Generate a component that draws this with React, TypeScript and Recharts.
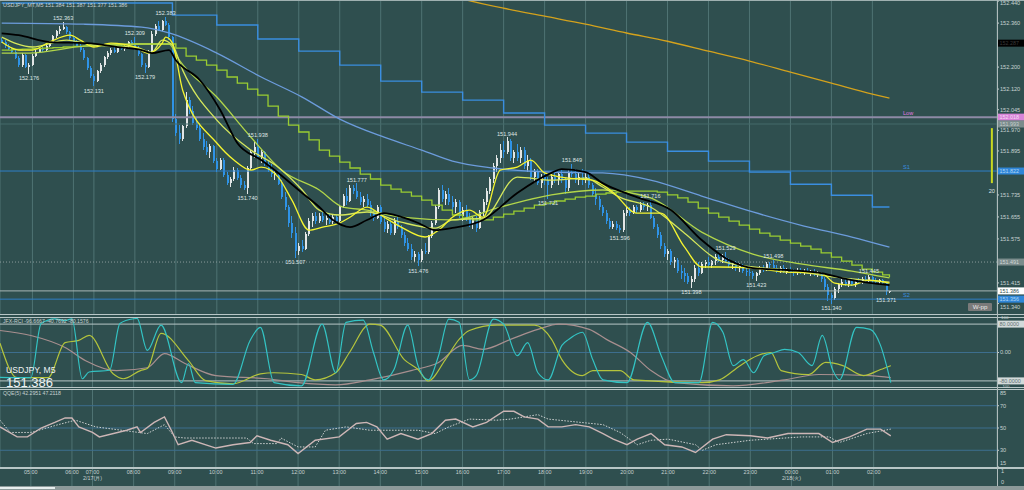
import React from 'react';
import { ComposedChart, Bar, Line, XAxis, YAxis, CartesianGrid, ReferenceLine, ReferenceDot } from 'recharts';

const BG = '#2f4f4f';
const GRID = '#4f7373';
const AXIS_TEXT = '#c8d2d2';
const BULL = '#e2e6e6';
const BEAR = '#2f93e6';
const FONT = '"Liberation Sans", Arial, sans-serif';
const SLOTS = 292; // 5-minute slots across the plot, incl. empty space on the right

// USDJPY M5 candles [open, high, low, close], 04:15 .. 02:25
const candles: number[][] = [
  // 04:15
  [152.300, 152.306, 152.288, 152.292], [152.292, 152.298, 152.270, 152.276], [152.276, 152.284, 152.262, 152.266],
  [152.266, 152.272, 152.250, 152.256], [152.256, 152.262, 152.228, 152.232], [152.232, 152.240, 152.200, 152.206],
  [152.206, 152.250, 152.200, 152.244], [152.244, 152.248, 152.196, 152.200], [152.200, 152.214, 152.176, 152.208],
  // 05:00
  [152.208, 152.246, 152.204, 152.240], [152.240, 152.262, 152.236, 152.256], [152.256, 152.270, 152.250, 152.266],
  [152.266, 152.276, 152.256, 152.262], [152.262, 152.282, 152.258, 152.278], [152.278, 152.296, 152.272, 152.290],
  [152.290, 152.318, 152.286, 152.312], [152.312, 152.336, 152.306, 152.330], [152.330, 152.348, 152.322, 152.340],
  [152.340, 152.363, 152.334, 152.344], [152.344, 152.350, 152.322, 152.326], [152.326, 152.332, 152.300, 152.306],
  // 06:00
  [152.306, 152.312, 152.284, 152.290], [152.290, 152.300, 152.272, 152.278], [152.278, 152.284, 152.256, 152.262],
  [152.262, 152.268, 152.226, 152.232], [152.232, 152.238, 152.190, 152.196], [152.196, 152.204, 152.160, 152.168],
  // 07:00
  [152.168, 152.176, 152.131, 152.150], [152.150, 152.190, 152.144, 152.184], [152.184, 152.214, 152.178, 152.208],
  [152.208, 152.240, 152.202, 152.236], [152.236, 152.258, 152.230, 152.252], [152.252, 152.270, 152.244, 152.262],
  [152.262, 152.272, 152.250, 152.256], [152.256, 152.274, 152.252, 152.270], [152.270, 152.284, 152.262, 152.266],
  [152.266, 152.280, 152.258, 152.276], [152.276, 152.296, 152.270, 152.290], [152.290, 152.300, 152.280, 152.284],
  // 08:00
  [152.284, 152.309, 152.262, 152.270], [152.270, 152.276, 152.240, 152.246], [152.246, 152.252, 152.200, 152.206],
  [152.206, 152.214, 152.179, 152.200], [152.200, 152.262, 152.196, 152.256], [152.256, 152.330, 152.250, 152.322],
  [152.322, 152.356, 152.314, 152.350], [152.350, 152.366, 152.330, 152.336], [152.336, 152.372, 152.332, 152.366],
  [152.366, 152.383, 152.348, 152.354], [152.354, 152.360, 152.300, 152.308], [152.308, 152.314, 152.000, 152.012],
  // 09:00
  [152.012, 152.030, 151.950, 151.962], [151.962, 151.990, 151.920, 151.940], [151.940, 151.990, 151.932, 151.984],
  [151.984, 152.110, 151.978, 152.080], [152.080, 152.090, 152.030, 152.040], [152.040, 152.060, 151.990, 151.998],
  [151.998, 152.020, 151.970, 151.980], [151.980, 151.996, 151.930, 151.940], [151.940, 151.960, 151.900, 151.908],
  [151.908, 151.930, 151.880, 151.890], [151.890, 151.920, 151.870, 151.912], [151.912, 151.918, 151.850, 151.858],
  // 10:00
  [151.858, 151.870, 151.818, 151.830], [151.830, 151.870, 151.824, 151.862], [151.862, 151.868, 151.800, 151.808],
  [151.808, 151.820, 151.770, 151.780], [151.780, 151.800, 151.764, 151.792], [151.792, 151.836, 151.786, 151.826],
  [151.826, 151.834, 151.790, 151.798], [151.798, 151.806, 151.760, 151.770], [151.770, 151.786, 151.752, 151.760],
  [151.760, 151.840, 151.740, 151.832], [151.832, 151.900, 151.826, 151.890], [151.890, 151.926, 151.870, 151.910],
  // 11:00
  [151.910, 151.938, 151.864, 151.872], [151.872, 151.900, 151.850, 151.890], [151.890, 151.896, 151.840, 151.846],
  [151.846, 151.860, 151.820, 151.830], [151.830, 151.846, 151.800, 151.810], [151.810, 151.826, 151.790, 151.816],
  [151.816, 151.820, 151.770, 151.776], [151.776, 151.790, 151.720, 151.728], [151.728, 151.744, 151.680, 151.690],
  [151.690, 151.700, 151.620, 151.632], [151.632, 151.660, 151.580, 151.596], [151.596, 151.620, 151.507, 151.530],
  // 12:00
  [151.530, 151.560, 151.516, 151.550], [151.550, 151.570, 151.526, 151.540], [151.540, 151.600, 151.536, 151.592],
  [151.592, 151.650, 151.586, 151.640], [151.640, 151.668, 151.620, 151.660], [151.660, 151.672, 151.630, 151.640],
  [151.640, 151.668, 151.632, 151.660], [151.660, 151.674, 151.636, 151.644], [151.644, 151.664, 151.624, 151.652],
  [151.652, 151.668, 151.630, 151.636], [151.636, 151.662, 151.628, 151.656], [151.656, 151.662, 151.634, 151.640],
  // 13:00
  [151.640, 151.700, 151.636, 151.694], [151.694, 151.740, 151.688, 151.730], [151.730, 151.760, 151.700, 151.712],
  [151.712, 151.770, 151.708, 151.760], [151.760, 151.772, 151.740, 151.748], [151.748, 151.777, 151.720, 151.728],
  [151.728, 151.744, 151.700, 151.710], [151.710, 151.730, 151.690, 151.720], [151.720, 151.740, 151.690, 151.700],
  [151.700, 151.712, 151.660, 151.668], [151.668, 151.680, 151.640, 151.650], [151.650, 151.700, 151.646, 151.692],
  // 14:00
  [151.692, 151.700, 151.630, 151.638], [151.638, 151.650, 151.600, 151.610], [151.610, 151.640, 151.596, 151.630],
  [151.630, 151.636, 151.588, 151.596], [151.596, 151.650, 151.590, 151.640], [151.640, 151.660, 151.610, 151.618],
  [151.618, 151.626, 151.580, 151.590], [151.590, 151.600, 151.550, 151.560], [151.560, 151.580, 151.530, 151.540],
  [151.540, 151.556, 151.500, 151.510], [151.510, 151.530, 151.490, 151.520], [151.520, 151.526, 151.476, 151.500],
  // 15:00
  [151.500, 151.540, 151.490, 151.532], [151.532, 151.560, 151.520, 151.526], [151.526, 151.590, 151.520, 151.584],
  [151.584, 151.640, 151.578, 151.632], [151.632, 151.700, 151.626, 151.690], [151.690, 151.760, 151.684, 151.752],
  [151.752, 151.770, 151.710, 151.720], [151.720, 151.750, 151.700, 151.740], [151.740, 151.760, 151.700, 151.708],
  [151.708, 151.730, 151.680, 151.690], [151.690, 151.720, 151.670, 151.710], [151.710, 151.716, 151.650, 151.660],
  // 16:00
  [151.660, 151.690, 151.640, 151.680], [151.680, 151.700, 151.640, 151.650], [151.650, 151.670, 151.620, 151.630],
  [151.630, 151.660, 151.610, 151.650], [151.650, 151.660, 151.600, 151.616], [151.616, 151.680, 151.610, 151.672],
  [151.672, 151.720, 151.660, 151.710], [151.710, 151.760, 151.700, 151.750], [151.750, 151.800, 151.740, 151.792],
  [151.792, 151.850, 151.780, 151.840], [151.840, 151.880, 151.820, 151.870], [151.870, 151.920, 151.850, 151.900],
  // 17:00
  [151.900, 151.930, 151.870, 151.890], [151.890, 151.944, 151.884, 151.930], [151.930, 151.940, 151.860, 151.870],
  [151.870, 151.900, 151.850, 151.890], [151.890, 151.920, 151.860, 151.870], [151.870, 151.910, 151.850, 151.900],
  [151.900, 151.910, 151.830, 151.840], [151.840, 151.880, 151.820, 151.860], [151.860, 151.870, 151.790, 151.800],
  [151.800, 151.830, 151.780, 151.820], [151.820, 151.830, 151.770, 151.780], [151.780, 151.810, 151.760, 151.800],
  // 18:00
  [151.800, 151.820, 151.770, 151.790], [151.790, 151.800, 151.721, 151.770], [151.770, 151.810, 151.760, 151.800],
  [151.800, 151.820, 151.780, 151.790], [151.790, 151.820, 151.770, 151.810], [151.810, 151.830, 151.780, 151.790],
  [151.790, 151.800, 151.740, 151.760], [151.760, 151.830, 151.750, 151.820], [151.820, 151.849, 151.800, 151.810],
  [151.810, 151.830, 151.780, 151.790], [151.790, 151.820, 151.770, 151.800], [151.800, 151.830, 151.770, 151.790],
  // 19:00
  [151.790, 151.820, 151.780, 151.800], [151.800, 151.810, 151.760, 151.770], [151.770, 151.780, 151.730, 151.740],
  [151.740, 151.760, 151.700, 151.720], [151.720, 151.730, 151.680, 151.690], [151.690, 151.700, 151.660, 151.670],
  [151.670, 151.680, 151.630, 151.640], [151.640, 151.650, 151.610, 151.620], [151.620, 151.640, 151.610, 151.630],
  [151.630, 151.640, 151.606, 151.616], [151.616, 151.624, 151.596, 151.606], [151.606, 151.680, 151.600, 151.670],
  // 20:00
  [151.670, 151.690, 151.660, 151.680], [151.680, 151.690, 151.660, 151.670], [151.670, 151.700, 151.664, 151.690],
  [151.690, 151.700, 151.670, 151.680], [151.680, 151.710, 151.674, 151.700], [151.700, 151.710, 151.680, 151.690],
  [151.690, 151.706, 151.676, 151.700], [151.700, 151.716, 151.646, 151.650], [151.650, 151.660, 151.610, 151.620],
  [151.620, 151.630, 151.580, 151.590], [151.590, 151.600, 151.540, 151.550], [151.550, 151.560, 151.510, 151.520],
  // 21:00
  [151.520, 151.540, 151.500, 151.530], [151.530, 151.540, 151.480, 151.490], [151.490, 151.510, 151.470, 151.500],
  [151.500, 151.506, 151.450, 151.460], [151.460, 151.480, 151.430, 151.450], [151.450, 151.470, 151.420, 151.440],
  [151.440, 151.450, 151.410, 151.420], [151.420, 151.440, 151.398, 151.430], [151.430, 151.480, 151.420, 151.470],
  [151.470, 151.490, 151.440, 151.450], [151.450, 151.490, 151.446, 151.484], [151.484, 151.500, 151.470, 151.490],
  // 22:00
  [151.490, 151.510, 151.470, 151.480], [151.480, 151.500, 151.470, 151.494], [151.494, 151.520, 151.480, 151.510],
  [151.510, 151.520, 151.490, 151.500], [151.500, 151.520, 151.486, 151.510], [151.510, 151.529, 151.490, 151.496],
  [151.496, 151.504, 151.470, 151.480], [151.480, 151.496, 151.466, 151.490], [151.490, 151.496, 151.460, 151.470],
  [151.470, 151.486, 151.456, 151.476], [151.476, 151.484, 151.450, 151.460], [151.460, 151.470, 151.440, 151.456],
  // 23:00
  [151.456, 151.470, 151.440, 151.450], [151.450, 151.460, 151.430, 151.440], [151.440, 151.456, 151.423, 151.450],
  [151.450, 151.476, 151.444, 151.470], [151.470, 151.480, 151.456, 151.466], [151.466, 151.490, 151.460, 151.484],
  [151.484, 151.490, 151.470, 151.480], [151.480, 151.498, 151.466, 151.470], [151.470, 151.480, 151.450, 151.460],
  [151.460, 151.476, 151.450, 151.470], [151.470, 151.480, 151.450, 151.456], [151.456, 151.470, 151.446, 151.464],
  // 00:00
  [151.464, 151.474, 151.450, 151.456], [151.456, 151.466, 151.440, 151.450], [151.450, 151.470, 151.444, 151.462],
  [151.462, 151.470, 151.446, 151.452], [151.452, 151.466, 151.444, 151.460], [151.460, 151.470, 151.446, 151.450],
  [151.450, 151.462, 151.440, 151.456], [151.456, 151.464, 151.440, 151.446], [151.446, 151.460, 151.436, 151.452],
  [151.452, 151.456, 151.420, 151.428], [151.428, 151.436, 151.390, 151.400], [151.400, 151.410, 151.350, 151.370],
  // 01:00
  [151.370, 151.380, 151.340, 151.360], [151.360, 151.400, 151.352, 151.394], [151.394, 151.416, 151.380, 151.410],
  [151.410, 151.430, 151.400, 151.420], [151.420, 151.430, 151.404, 151.412], [151.412, 151.428, 151.400, 151.424],
  [151.424, 151.432, 151.404, 151.410], [151.410, 151.426, 151.400, 151.420], [151.420, 151.434, 151.410, 151.416],
  [151.416, 151.436, 151.410, 151.430], [151.430, 151.440, 151.420, 151.426], [151.426, 151.445, 151.420, 151.436],
  // 02:00
  [151.436, 151.440, 151.416, 151.424], [151.424, 151.434, 151.410, 151.420], [151.420, 151.430, 151.406, 151.424],
  [151.424, 151.430, 151.410, 151.416], [151.416, 151.420, 151.371, 151.384], [151.384, 151.387, 151.377, 151.386],
];

// moving averages, [bar index, price]
const maBlack = [[0, 152.323], [5, 152.316], [14, 152.291], [25, 152.287], [34, 152.273], [41, 152.262], [44, 152.251], [49, 152.262], [51, 152.225], [58, 152.153], [64, 152.044], [69, 151.924], [76, 151.862], [81, 151.815], [88, 151.742], [93, 151.691], [97, 151.644], [102, 151.618], [107, 151.644], [112, 151.669], [117, 151.655], [122, 151.633], [127, 151.607], [132, 151.615], [141, 151.644], [151, 151.742], [161, 151.815], [164, 151.829], [171, 151.818], [176, 151.778], [186, 151.727], [196, 151.680], [205, 151.571], [213, 151.498], [220, 151.469], [230, 151.462], [240, 151.451], [249, 151.425], [260, 151.407]];
const maYellow = [[0, 152.291], [5, 152.262], [9, 152.262], [14, 152.291], [20, 152.316], [23, 152.298], [27, 152.273], [32, 152.287], [39, 152.273], [43, 152.251], [47, 152.287], [48, 152.309], [50, 152.287], [53, 152.116], [63, 151.924], [68, 151.862], [73, 151.825], [76, 151.836], [81, 151.800], [85, 151.716], [90, 151.607], [94, 151.618], [99, 151.633], [102, 151.654], [107, 151.691], [112, 151.654], [117, 151.618], [124, 151.582], [128, 151.607], [132, 151.654], [137, 151.680], [141, 151.654], [146, 151.825], [151, 151.836], [155, 151.862], [159, 151.815], [166, 151.796], [173, 151.789], [179, 151.745], [186, 151.669], [193, 151.669], [200, 151.545], [205, 151.473], [210, 151.473], [220, 151.469], [230, 151.454], [240, 151.451], [244, 151.414], [249, 151.407], [254, 151.425], [260, 151.414]];
const maPale = [[0, 152.309], [9, 152.273], [19, 152.298], [27, 152.280], [39, 152.273], [44, 152.254], [47, 152.298], [50, 152.280], [53, 152.189], [63, 152.007], [73, 151.898], [81, 151.836], [88, 151.753], [93, 151.680], [99, 151.662], [107, 151.673], [117, 151.636], [127, 151.614], [132, 151.644], [141, 151.651], [151, 151.800], [161, 151.789], [171, 151.796], [176, 151.764], [181, 151.727], [190, 151.691], [200, 151.596], [210, 151.498], [220, 151.473], [230, 151.462], [244, 151.436], [260, 151.418]];
const maGreen = [[0, 152.251], [8, 152.251], [24, 152.276], [38, 152.284], [49, 152.284], [52, 152.225], [63, 152.091], [73, 151.945], [82, 151.825], [93, 151.753], [100, 151.691], [107, 151.680], [117, 151.654], [132, 151.644], [146, 151.691], [161, 151.735], [176, 151.753], [190, 151.724], [205, 151.600], [220, 151.520], [234, 151.484], [249, 151.458], [260, 151.433]];
const maLightBlue = [[0, 152.360], [24, 152.356], [41, 152.345], [49, 152.324], [63, 152.251], [76, 152.164], [88, 152.091], [99, 152.011], [112, 151.945], [123, 151.898], [132, 151.858], [144, 151.833], [161, 151.818], [176, 151.815], [190, 151.789], [205, 151.731], [220, 151.673], [235, 151.622], [249, 151.582], [260, 151.545]];
const maOrange = [[111, 152.530], [123, 152.488], [135, 152.447], [147, 152.414], [159, 152.385], [171, 152.356], [183, 152.324], [195, 152.294], [207, 152.258], [219, 152.222], [231, 152.182], [243, 152.142], [255, 152.102], [260, 152.087]];
// higher-timeframe averages drawn as steps
const stepBlue = [[0, 152.433], [50, 152.389], [63, 152.353], [75, 152.302], [87, 152.258], [99, 152.207], [111, 152.149], [123, 152.109], [135, 152.080], [147, 152.033], [159, 151.989], [171, 151.960], [183, 151.927], [195, 151.894], [207, 151.858], [219, 151.818], [231, 151.774], [243, 151.734], [255, 151.691], [260, 151.691]];
const stepGreen = [[0, 152.262], [3, 152.264], [6, 152.265], [9, 152.267], [12, 152.269], [15, 152.271], [18, 152.273], [21, 152.275], [24, 152.276], [27, 152.278], [30, 152.280], [33, 152.280], [36, 152.282], [39, 152.284], [42, 152.284], [45, 152.284], [48, 152.284], [51, 152.269], [54, 152.240], [57, 152.225], [60, 152.207], [63, 152.189], [66, 152.164], [69, 152.142], [72, 152.120], [75, 152.098], [78, 152.058], [81, 152.022], [84, 151.989], [87, 151.964], [90, 151.935], [93, 151.898], [96, 151.876], [99, 151.854], [102, 151.833], [105, 151.811], [108, 151.793], [111, 151.771], [114, 151.756], [117, 151.745], [120, 151.731], [123, 151.716], [126, 151.698], [129, 151.680], [132, 151.662], [135, 151.651], [138, 151.644], [141, 151.644], [144, 151.654], [147, 151.665], [150, 151.676], [153, 151.687], [156, 151.698], [159, 151.705], [162, 151.713], [165, 151.720], [168, 151.727], [171, 151.731], [174, 151.738], [177, 151.742], [180, 151.745], [183, 151.749], [186, 151.749], [189, 151.749], [192, 151.745], [195, 151.735], [198, 151.724], [201, 151.709], [204, 151.687], [207, 151.669], [210, 151.654], [213, 151.640], [216, 151.625], [219, 151.611], [222, 151.596], [225, 151.585], [228, 151.571], [231, 151.560], [234, 151.549], [237, 151.538], [240, 151.524], [243, 151.509], [246, 151.494], [249, 151.480], [252, 151.465], [255, 151.454], [258, 151.444], [260, 151.436]];

// RCI panel, [bar index, value]
const rciFast = [[0, -70], [9, -71], [12, 82], [16, 95], [19, 90], [21, 95], [24, -74], [26, -55], [32, -50], [35, 82], [39, 95], [40, 96], [43, 6], [47, 77], [53, -85], [55, -31], [57, -85], [68, -90], [73, 34], [76, 71], [80, -85], [88, -94], [94, 80], [98, -57], [101, 85], [106, 91], [109, 0], [112, -77], [115, -48], [119, 77], [122, -37], [125, -77], [128, -9], [131, 94], [134, 85], [137, -77], [139, -65], [144, 94], [147, 80], [151, -9], [154, 28], [157, -57], [160, -77], [164, 20], [166, 37], [170, 57], [173, -20], [176, -77], [183, -85], [189, 85], [193, -9], [197, -85], [204, -85], [208, 85], [211, 57], [214, -37], [217, -20], [220, -57], [223, -9], [226, 0], [229, 9], [233, 0], [237, -37], [240, 48], [243, -48], [245, -77], [250, 71], [254, 65], [257, 20], [260, -85]];
const rciMid = [[0, 26], [5, -71], [14, -71], [19, 28], [23, 34], [26, 48], [33, -60], [36, -74], [41, -51], [43, -45], [47, 54], [55, -23], [60, -79], [68, -88], [76, -60], [80, -57], [88, -62], [92, -77], [98, -57], [102, 0], [108, 80], [111, 77], [118, -20], [122, -48], [125, -80], [130, -20], [134, 37], [137, 62], [145, 77], [156, 77], [161, 37], [164, -20], [170, -65], [173, -51], [181, -51], [185, -77], [205, -85], [210, -77], [216, -37], [221, -9], [225, 0], [228, -51], [236, -62], [241, -28], [246, -37], [252, -65], [257, -48], [260, -37]];
const rciSlow = [[0, 62], [9, 48], [19, 14], [25, -23], [34, -51], [43, -43], [48, -3], [54, -31], [63, -65], [78, -74], [87, -85], [98, -91], [108, -77], [120, -51], [128, -28], [135, 20], [141, 9], [149, 37], [157, 65], [163, 80], [172, 65], [177, 37], [184, 0], [190, -51], [197, -85], [214, -94], [229, -77], [239, -62], [254, -65], [260, -71]];

// QQE panel, [bar index, value]
const qqeMain = [[0, 51], [5, 42], [8, 42], [12, 50], [16, 55], [19, 59], [21, 59], [23, 51], [27, 46], [29, 42], [37, 48], [40, 51], [41, 46], [45, 55], [48, 60], [50, 48], [52, 35], [56, 39], [63, 32], [68, 35], [73, 37], [75, 43], [79, 39], [84, 35], [87, 27], [92, 39], [99, 42], [104, 54], [107, 55], [110, 51], [113, 40], [117, 45], [122, 40], [126, 45], [130, 57], [133, 58], [138, 51], [142, 55], [147, 65], [150, 65], [153, 60], [157, 58], [160, 51], [164, 51], [168, 53], [172, 51], [176, 45], [179, 40], [183, 35], [186, 40], [190, 45], [194, 35], [199, 33], [203, 28], [208, 40], [212, 44], [219, 43], [224, 41], [230, 45], [239, 45], [243, 37], [248, 42], [253, 49], [257, 49], [260, 43]];
const qqeSignal = [[0, 57], [3, 46], [9, 46], [17, 53], [22, 57], [28, 51], [43, 45], [48, 53], [51, 42], [54, 41], [72, 41], [74, 36], [81, 36], [82, 41], [87, 33], [92, 33], [95, 48], [101, 51], [108, 48], [122, 48], [127, 45], [131, 51], [137, 58], [145, 57], [149, 58], [157, 62], [160, 58], [176, 53], [181, 46], [186, 35], [190, 39], [195, 40], [203, 35], [205, 30], [209, 35], [219, 39], [234, 42], [242, 42], [245, 37], [253, 45], [260, 49]];

// time axis
const hourTicks = [9, 21, 27, 39, 51, 63, 75, 87, 99, 111, 123, 135, 147, 159, 171, 183, 195, 207, 219, 231, 243, 255];
const hourLabels = ['05:00', '06:00', '07:00', '08:00', '09:00', '10:00', '11:00', '12:00', '13:00', '14:00', '15:00', '16:00', '17:00', '18:00', '19:00', '20:00', '21:00', '22:00', '23:00', '00:00', '01:00', '02:00'];
const dateTicks = [27, 231];
const dateLabels = ['2/17(月)', '2/18(火)'];

const priceTicks = [152.44, 152.36, 152.2, 152.12, 152.045, 151.97, 151.895, 151.735, 151.655, 151.575, 151.415, 151.34];
const qqeTicks = [85, 70, 50, 30, 15];

// high / low notes: [bar index, price, above?]
const notes: [number, number, boolean][] = [
  [8, 152.176, false], [18, 152.363, true], [27, 152.131, false], [39, 152.309, true], [42, 152.179, false],
  [48, 152.383, true], [72, 151.740, false], [75, 151.938, true], [86, 151.507, false], [104, 151.777, true],
  [122, 151.476, false], [148, 151.944, true], [160, 151.721, false], [167, 151.849, true], [181, 151.596, false],
  [190, 151.716, true], [202, 151.398, false], [212, 151.529, true], [221, 151.423, false], [226, 151.498, true],
  [243, 151.340, false], [254, 151.445, true], [259, 151.371, false],
];

const rows: any[] = [];
for (let i = 0; i < SLOTS; i++) rows.push({ i });
candles.forEach((c, i) => {
  Object.assign(rows[i], { o: c[0], h: c[1], l: c[2], c: c[3], range: [c[2], c[1]] });
});
const put = (key: string, pts: number[][]) => pts.forEach(([i, v]) => { rows[i][key] = v; });
put('black', maBlack); put('yellow', maYellow); put('pale', maPale); put('green', maGreen);
put('lightBlue', maLightBlue); put('orange', maOrange); put('stepBlue', stepBlue); put('stepGreen', stepGreen);
put('rciFast', rciFast); put('rciMid', rciMid); put('rciSlow', rciSlow);
put('qqeMain', qqeMain); put('qqeSignal', qqeSignal);

const Candle = (props: any) => {
  const { x, y, width, height, payload } = props;
  if (!payload || payload.o == null || height == null) return <g />;
  const { o, h, l, c } = payload;
  const top = Math.min(y, y + height);
  const span = Math.max(1, Math.abs(height));
  const py = (v: number) => top + (h === l ? 0 : ((h - v) / (h - l)) * span);
  const cx = Math.floor(x + width / 2);
  const color = c >= o ? BULL : BEAR;
  const bTop = py(Math.max(o, c));
  const bH = Math.max(1, py(Math.min(o, c)) - bTop);
  return (
    <g shapeRendering="crispEdges">
      <rect x={cx} y={top} width={1} height={span} fill={color} />
      <rect x={cx - 0.5} y={bTop} width={2} height={bH} fill={color} />
    </g>
  );
};

const tag = (text: string, bg: string, fg: string, name?: string, nameColor?: string) => (props: any) => {
  const vb = props.viewBox || {};
  const right = vb.x + vb.width;
  return (
    <g>
      {name && <text x={vb.x + 903} y={vb.y - 2} fontSize={5.6} fill={nameColor}>{name}</text>}
      <rect x={right + 1} y={vb.y - 3.5} width={26} height={7} fill={bg} />
      <text x={right + 2.5} y={vb.y + 2} fontSize={5.4} fill={fg}>{text}</text>
    </g>
  );
};

const noteLabel = (text: string, above: boolean) => (props: any) => {
  const vb = props.viewBox || {};
  return (
    <text x={vb.x} y={above ? vb.y - 1.8 : vb.y + 6.6} textAnchor="middle" fontSize={5.6} fill="#dfe4e4">{text}</text>
  );
};

// price labels on the right scale; the outermost ones are kept inside the pane
const PriceTick = (props: any) => {
  const { x, y, payload } = props;
  const v = payload.value;
  const yy = v === priceTicks[0] ? Math.max(y, 3.5) : v === priceTicks[priceTicks.length - 1] ? y + 3 : y;
  return <text x={x} y={yy} dy="0.35em" fontSize={5.6} fill={AXIS_TEXT}>{v.toFixed(3)}</text>;
};

// QQE scale labels, first and last pulled inside the pane
const QqeTick = (props: any) => {
  const { x, y, payload } = props;
  const v = payload.value;
  const yy = v === qqeTicks[0] ? y + 4 : v === qqeTicks[qqeTicks.length - 1] ? y - 4 : y;
  return <text x={x} y={yy} dy="0.35em" fontSize={5.6} fill={AXIS_TEXT}>{v}</text>;
};

const TimeTick = (props: any) => {
  const { x, y, payload } = props;
  const k = hourTicks.indexOf(payload.value);
  const d = dateTicks.indexOf(payload.value);
  return (
    <g>
      <line x1={x} x2={x} y1={y} y2={y + 19} stroke={GRID} />
      <text x={x} y={y + 7} textAnchor="middle" fontSize={5.4} fill={AXIS_TEXT}>{hourLabels[k]}</text>
      {d >= 0 && <text x={x} y={y + 13} textAnchor="middle" fontSize={5.4} fill={AXIS_TEXT}>{dateLabels[d]}</text>}
    </g>
  );
};

const line = (key: string, color: string, width = 1.3, type: any = 'monotone', dash?: string) => (
  <Line dataKey={key} stroke={color} strokeWidth={width} strokeDasharray={dash} dot={false} activeDot={false} connectNulls type={type} isAnimationActive={false} />
);

const yTick = { fontSize: 5.6, fill: AXIS_TEXT };
const abs = (left: number, top: number, w: number, h: number, bg: string): React.CSSProperties => ({ position: 'absolute', left, top, width: w, height: h, background: bg });
const txt = (left: number, top: number, size: number, color = AXIS_TEXT): React.CSSProperties => ({ position: 'absolute', left, top, fontSize: size, color, lineHeight: 1, whiteSpace: 'nowrap' });

export default function App() {
  return (
    <div style={{ position: 'absolute', left: 0, top: 0, width: 1024, height: 490, background: BG, fontFamily: FONT, overflow: 'hidden' }}>
      {/* main price chart */}
      <div style={{ position: 'absolute', left: 0, top: 0 }}>
        <ComposedChart width={1024} height={314} data={rows} margin={{ top: 0, right: 0, bottom: 0, left: 0 }} barCategoryGap="20%">
          <CartesianGrid horizontal={false} stroke={GRID} />
          <XAxis dataKey="i" hide ticks={hourTicks} interval={0} />
          <YAxis orientation="right" width={27} domain={[151.302, 152.444]} allowDataOverflow ticks={priceTicks} interval={0}
            tick={PriceTick} tickSize={2} tickMargin={1} tickLine={{ stroke: AXIS_TEXT }} axisLine={false} />
          <ReferenceLine y={152.287} stroke="none" label={tag('152.287', '#000000', '#3a3a3a')} />
          <ReferenceLine y={152.018} stroke="#8e8aa6" strokeWidth={2} label={tag('152.018', '#d884d8', '#f6dcf6', 'Low', '#e07ae0')} />
          <ReferenceLine y={151.993} stroke="#456a6a" label={tag('151.993', '#7b8c8c', '#c4cece')} />
          <ReferenceLine y={151.822} stroke="#2f7fc8" label={tag('151.822', '#2f86d8', '#b0d6f4', 'S1', '#3a8ee0')} />
          <ReferenceLine y={151.491} stroke="#8a9a9a" strokeDasharray="1 2" label={tag('151.491', '#7b8c8c', '#d0d8d8')} />
          <ReferenceLine y={151.386} stroke="#a8b6b6" label={tag('151.386', '#ffffff', '#2f4f4f')} />
          <ReferenceLine y={151.356} stroke="#2f7fc8" label={tag('151.356', '#2f86d8', '#b0d6f4', 'S2', '#3a8ee0')} />
          <Bar dataKey="range" shape={Candle} isAnimationActive={false} />
          {line('orange', '#d4a21c')}
          {line('stepBlue', '#3a8ee0', 1.4, 'stepAfter')}
          {line('lightBlue', '#6c9cdc')}
          {line('stepGreen', '#9acd32', 1.3, 'stepAfter')}
          {line('green', '#b2d64a')}
          {line('pale', '#d6e85c')}
          {line('yellow', '#f4f430')}
          {line('black', '#000000', 1.8)}
          <ReferenceLine segment={[{ x: 290, y: 151.978 }, { x: 290, y: 151.778 }]} stroke="#c8d820" strokeWidth={2} />
          <ReferenceDot x={290} y={151.765} r={0} label={noteLabel('20', false)} />
          {notes.map(([i, p, above]) => (
            <ReferenceDot key={i} x={i} y={p} r={0} label={noteLabel(p.toFixed(3), above)} />
          ))}
        </ComposedChart>
      </div>

      {/* RCI panel */}
      <div style={{ position: 'absolute', left: 0, top: 317 }}>
        <ComposedChart width={1024} height={71} data={rows} margin={{ top: 0, right: 0, bottom: 0, left: 0 }}>
          <CartesianGrid horizontal={false} stroke={GRID} />
          <XAxis dataKey="i" hide ticks={hourTicks} interval={0} />
          <YAxis orientation="right" width={27} domain={[-100, 100]} allowDataOverflow ticks={[0]} interval={0}
            tick={yTick} tickSize={2} tickMargin={1} tickLine={{ stroke: AXIS_TEXT }} axisLine={false}
            tickFormatter={() => '0.00'} />
          <ReferenceLine y={80} stroke="#b8c6c6" label={tag('80.0000', '#d2dada', '#5e7070')} />
          <ReferenceLine y={0} stroke="#3d6e8e" />
          <ReferenceLine y={-80} stroke="#b8c6c6" label={tag('-80.0000', '#d2dada', '#5e7070')} />
          {line('rciSlow', '#a88f8f', 1.2)}
          {line('rciMid', '#b4c43c', 1.2)}
          {line('rciFast', '#33c3c3', 1.2)}
        </ComposedChart>
      </div>

      {/* QQE panel + time axis */}
      <div style={{ position: 'absolute', left: 0, top: 389 }}>
        <ComposedChart width={1024} height={97} data={rows} margin={{ top: 0, right: 0, bottom: 0, left: 0 }}>
          <CartesianGrid horizontal={false} stroke={GRID} />
          <XAxis dataKey="i" ticks={hourTicks} interval={0} height={19} tickSize={0} tickMargin={0} axisLine={false} tick={TimeTick} />
          <YAxis orientation="right" width={27} domain={[15, 85]} allowDataOverflow ticks={qqeTicks} interval={0}
            tick={QqeTick} tickSize={2} tickMargin={1} tickLine={{ stroke: AXIS_TEXT }} axisLine={false} />
          <ReferenceLine y={70} stroke="#3d6e8e" />
          <ReferenceLine y={50} stroke="#3d6e8e" />
          <ReferenceLine y={30} stroke="#3d6e8e" />
          {line('qqeSignal', '#cfd2d2', 1, 'linear', '1.5 1.5')}
          {line('qqeMain', '#cdb6b6', 1.4, 'linear')}
        </ComposedChart>
      </div>

      {/* frame lines */}
      <div style={abs(0, 0, 1024, 1, '#9fb0b0')} />
      <div style={abs(0, 314, 1024, 1, '#b8c6c6')} />
      <div style={abs(0, 317, 1024, 1, '#b8c6c6')} />
      <div style={abs(0, 387, 1024, 1, '#b8c6c6')} />
      <div style={abs(0, 389, 1024, 1, '#b8c6c6')} />
      <div style={abs(0, 467, 1024, 2, '#b8c6c6')} />
      <div style={abs(997, 0, 1, 486, '#b0bcbc')} />
      <div style={abs(0, 486, 1024, 4, '#8d9a9a')} />
      <div style={abs(0, 487, 55, 2, '#e8eeee')} />

      {/* texts */}
      <div style={txt(3, 3, 5.4)}>USDJPY_MT,M5  151.384 151.387 151.377 151.386</div>
      <div style={txt(3, 319, 5.2)}>JFX-RCI -96.6667 -40.7692 -80.1576</div>
      <div style={txt(6, 366, 8.6, '#eef2f2')}>USDJPY, M5</div>
      <div style={txt(6, 376, 13, '#eef2f2')}>151.386</div>
      <div style={txt(3, 391, 5.2)}>QQE(5) 42.2951 47.2118</div>
      <div style={txt(1001, 315.5, 4.4)}>100</div>
      <div style={txt(1001, 384.8, 4.2)}>-100</div>
      <div style={txt(1001, 469, 5.6)}>1</div>
      <div style={txt(1001, 480, 5.6)}>0</div>
      <div style={{ ...txt(968, 303, 6.2, '#e8e8e8'), width: 24, height: 8, background: '#7a7a7a', textAlign: 'center', lineHeight: '8px', borderRadius: 1 }}>W-pp</div>
    </div>
  );
}
